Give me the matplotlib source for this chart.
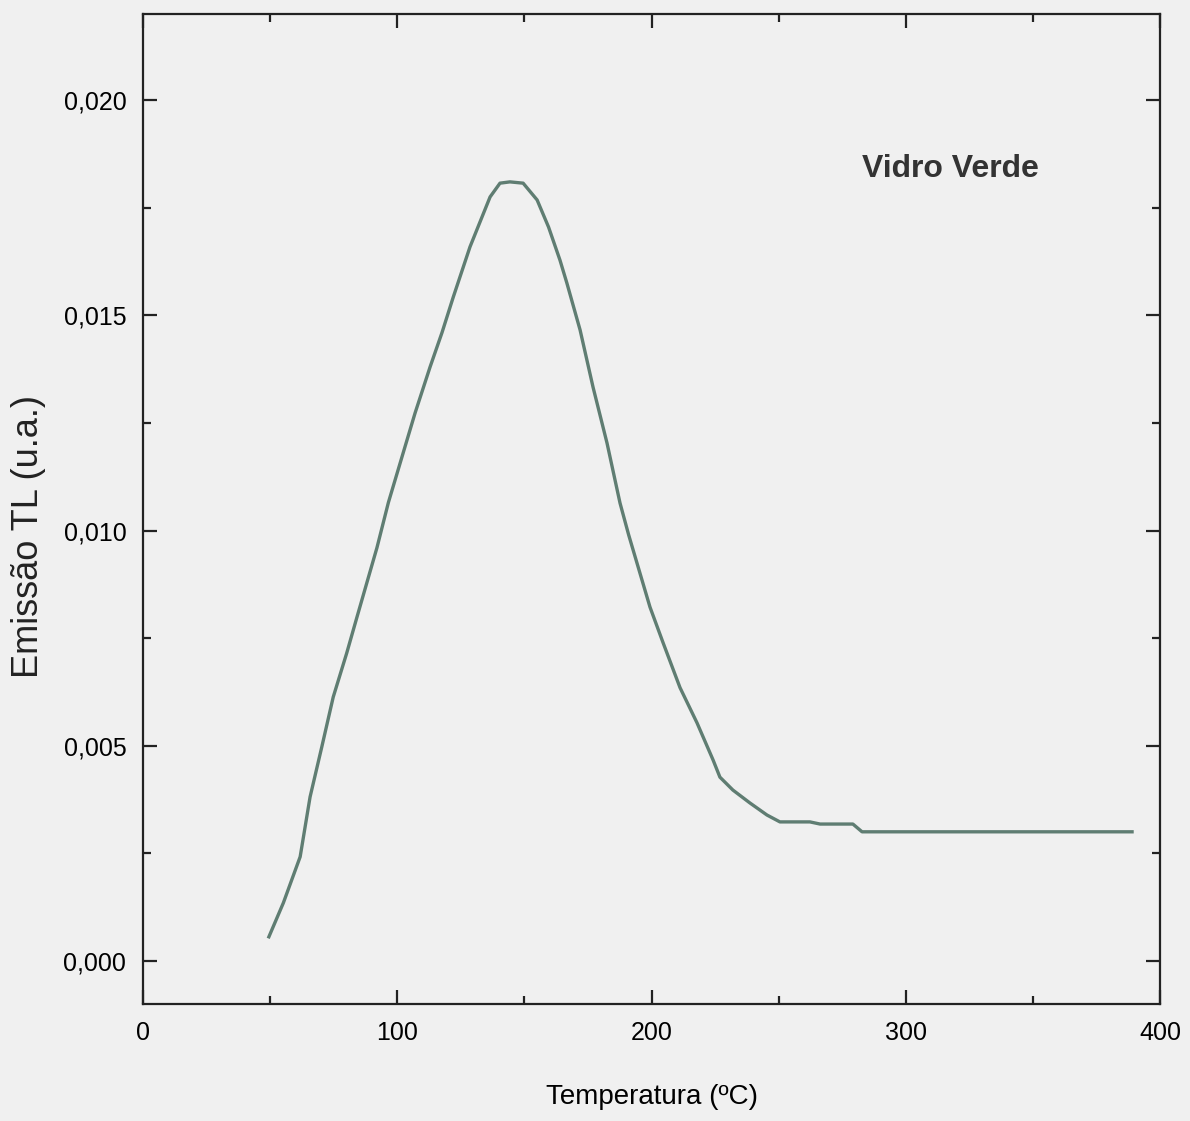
import matplotlib.pyplot as plt
from matplotlib.ticker import MultipleLocator, FuncFormatter

# Curva TL - vidro verde
temperatura = [49.5, 55.2, 61.8, 65.7, 70.3, 74.8, 80.1, 84.2, 88.0, 92.0,
               96.5, 102.3, 107.0, 112.9, 117.6, 122.0, 128.6, 136.5, 140.4,
               144.3, 149.5, 155.0, 159.5, 164.0, 166.7, 171.9, 177.0, 182.5,
               187.6, 191.0, 194.5, 199.4, 204.5, 211.2, 217.9, 224.2, 226.9,
               232.0, 238.7, 245.4, 250.5, 262.3, 266.3, 279.2, 282.8, 389.0]
emissao = [0.00056, 0.00135, 0.00242, 0.00381, 0.00497, 0.00613, 0.00715,
           0.00800, 0.00878, 0.00960, 0.01065, 0.01180, 0.01273, 0.01380,
           0.01460, 0.01542, 0.01659, 0.01775, 0.01807, 0.01810, 0.01807,
           0.01768, 0.01705, 0.01628, 0.01575, 0.01466, 0.01333, 0.01203,
           0.01064, 0.00990, 0.00920, 0.00822, 0.00740, 0.00635, 0.00553,
           0.00467, 0.00427, 0.00397, 0.00367, 0.00339, 0.00323, 0.00323,
           0.00318, 0.00318, 0.00300, 0.00300]

bg = '#f0f0f0'
plt.rcParams['font.family'] = ['Liberation Sans', 'DejaVu Sans']

fig = plt.figure(figsize=(11.9, 11.21), dpi=100, facecolor=bg)
ax = fig.add_axes([0.1202, 0.1044, 0.8546, 0.8831], facecolor=bg)

ax.plot(temperatura, emissao, color='#5f7d72', linewidth=2.4,
        solid_joinstyle='round')

ax.set_xlim(0, 400)
ax.set_ylim(-0.001, 0.022)
ax.xaxis.set_major_locator(MultipleLocator(100))
ax.xaxis.set_minor_locator(MultipleLocator(50))
ax.yaxis.set_major_locator(MultipleLocator(0.005))
ax.yaxis.set_minor_locator(MultipleLocator(0.0025))
ax.yaxis.set_major_formatter(FuncFormatter(lambda v, p: f'{v:.3f}'.replace('.', ',')))

ax.tick_params(which='both', direction='in', top=True, right=True,
               color='#222222', width=1.6)
ax.tick_params(which='major', length=10, labelsize=18, pad=12)
ax.tick_params(which='minor', length=6)
for s in ax.spines.values():
    s.set_linewidth(1.6)
    s.set_color('#222222')

ax.set_xlabel('Temperatura (ºC)', fontsize=20, labelpad=28)
ax.set_ylabel('Emissão TL (u.a.)', fontsize=26, color='#222222', va='center')
ax.yaxis.set_label_coords(-0.113, 0.472)

ax.text(0.707, 0.843, 'Vidro Verde', transform=ax.transAxes, fontsize=23,
        fontweight='bold', color='#333333', va='center')

fig.savefig('out.png', dpi=100, facecolor=bg)
